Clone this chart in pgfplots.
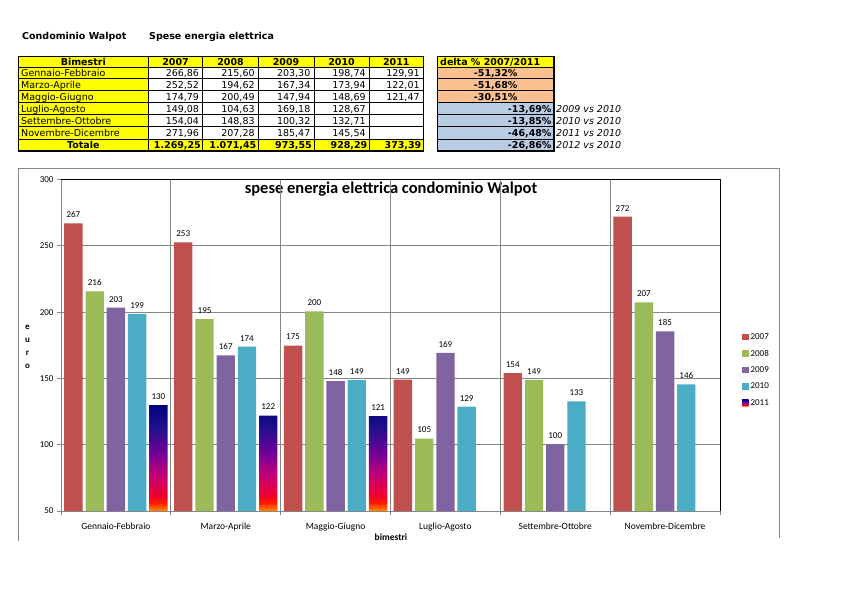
\documentclass[border=0pt]{standalone}
\usepackage{fontspec}
\setmainfont{Carlito}
\newfontfamily\tabfont{DejaVu Sans}
\usepackage{pgfplots}
\pgfplotsset{compat=1.18}
\pgfplotsset{/pgf/number format/assume math mode=true}
\definecolor{c07}{HTML}{C0504D}
\definecolor{c08}{HTML}{9BBB59}
\definecolor{c09}{HTML}{8064A2}
\definecolor{c10}{HTML}{4BACC6}
\definecolor{gridg}{HTML}{868686}
\definecolor{yel}{HTML}{FFFF00}
\definecolor{peach}{HTML}{FAC090}
\definecolor{lblue}{HTML}{B8CCE4}
\definecolor{gA}{HTML}{FF8C00}
\definecolor{gB}{HTML}{FF1A00}
\definecolor{gC}{HTML}{F00030}
\definecolor{gD}{HTML}{C0007A}
\definecolor{gE}{HTML}{70009A}
\definecolor{gF}{HTML}{22108A}
\definecolor{gG}{HTML}{000080}
\pgfdeclareverticalshading{bar2011}{100bp}{color(0bp)=(gA); color(25bp)=(gA); color(29bp)=(gB); color(32.5bp)=(gC); color(42.5bp)=(gD); color(52.5bp)=(gE); color(64bp)=(gF); color(75bp)=(gG); color(100bp)=(gG)}
\newcommand\tfr{\tabfont\fontsize{9.5}{11}\selectfont}
\newcommand\tfb{\tabfont\bfseries\fontsize{9.5}{11}\selectfont}
\newcommand\tfi{\tabfont\itshape\fontsize{9.5}{11}\selectfont}
% row: baseline y, label, five values
\newcommand\trow[7]{%
  \node[anchor=base west,inner sep=0,font=\tfr] at (21,#1) {#2};
  \node[anchor=base east,inner sep=0,font=\tfr] at (199.2,#1) {#3};
  \node[anchor=base east,inner sep=0,font=\tfr] at (254.8,#1) {#4};
  \node[anchor=base east,inner sep=0,font=\tfr] at (310.5,#1) {#5};
  \node[anchor=base east,inner sep=0,font=\tfr] at (365.8,#1) {#6};
  \node[anchor=base east,inner sep=0,font=\tfr] at (419.8,#1) {#7};
}
\begin{document}
\begin{tikzpicture}
\path[use as bounding box, fill=white] (0,0) rectangle (842pt,-595pt);
\begin{scope}[x=1pt,y=-1pt]
  % titles
  \node[anchor=base west,inner sep=0,font=\tfb] at (22,39.5) {Condominio Walpot};
  \node[anchor=base west,inner sep=0,font=\tfb] at (149,39.5) {Spese energia elettrica};
  % table fills
  \fill[yel] (18.3,56.7) rectangle (423.3,67.3);
  \fill[yel] (18.3,67.3) rectangle (148.3,139);
  \fill[yel] (18.3,139) rectangle (423.3,151);
  \foreach \y in {67.3,78.7,90.7,102.7,114.3,126.7,139}
    \draw[line width=0.7pt] (18.3,\y) -- (423.3,\y);
  \foreach \x in {148.3,202.7,258.3,314,369.3}
    \draw[line width=0.7pt] (\x,56.7) -- (\x,151);
  \draw[line width=1.4pt] (18.3,56.7) rectangle (423.3,151);
  % header
  \node[anchor=base,inner sep=0,font=\tfb] at (83.3,65.5) {Bimestri};
  \node[anchor=base,inner sep=0,font=\tfb] at (175.5,65.5) {2007};
  \node[anchor=base,inner sep=0,font=\tfb] at (230.5,65.5) {2008};
  \node[anchor=base,inner sep=0,font=\tfb] at (286.1,65.5) {2009};
  \node[anchor=base,inner sep=0,font=\tfb] at (341.6,65.5) {2010};
  \node[anchor=base,inner sep=0,font=\tfb] at (396.3,65.5) {2011};
  \trow{76.5}{Gennaio-Febbraio}{266,86}{215,60}{203,30}{198,74}{129,91}
  \trow{88.2}{Marzo-Aprile}{252,52}{194,62}{167,34}{173,94}{122,01}
  \trow{100.2}{Maggio-Giugno}{174,79}{200,49}{147,94}{148,69}{121,47}
  \trow{112}{Luglio-Agosto}{149,08}{104,63}{169,18}{128,67}{}
  \trow{124}{Settembre-Ottobre}{154,04}{148,83}{100,32}{132,71}{}
  \trow{136.3}{Novembre-Dicembre}{271,96}{207,28}{185,47}{145,54}{}
  \node[anchor=base,inner sep=0,font=\tfb] at (83.3,148.5) {Totale};
  \node[anchor=base east,inner sep=0,font=\tfb] at (201,148.5) {1.269,25};
  \node[anchor=base east,inner sep=0,font=\tfb] at (256.5,148.5) {1.071,45};
  \node[anchor=base east,inner sep=0,font=\tfb] at (312,148.5) {973,55};
  \node[anchor=base east,inner sep=0,font=\tfb] at (367.5,148.5) {928,29};
  \node[anchor=base east,inner sep=0,font=\tfb] at (421.5,148.5) {373,39};
  % delta column
  \fill[yel] (437.3,56.7) rectangle (554,67.3);
  \fill[peach] (437.3,67.3) rectangle (554,102.7);
  \fill[lblue] (437.3,102.7) rectangle (554,151);
  \foreach \y in {67.3,78.7,90.7,102.7,114.3,126.7,139}
    \draw[line width=0.7pt] (437.3,\y) -- (554,\y);
  \draw[line width=1.4pt] (437.3,56.7) rectangle (554,151);
  \node[anchor=base west,inner sep=0,font=\tfb] at (440,65.5) {delta \% 2007/2011};
  \node[anchor=base,inner sep=0,font=\tfb] at (495.7,76.5) {-51,32\%};
  \node[anchor=base,inner sep=0,font=\tfb] at (495.7,88.2) {-51,68\%};
  \node[anchor=base,inner sep=0,font=\tfb] at (495.7,100.2) {-30,51\%};
  \node[anchor=base east,inner sep=0,font=\tfb] at (551.7,112) {-13,69\%};
  \node[anchor=base east,inner sep=0,font=\tfb] at (551.7,124) {-13,85\%};
  \node[anchor=base east,inner sep=0,font=\tfb] at (551.7,136.3) {-46,48\%};
  \node[anchor=base east,inner sep=0,font=\tfb] at (551.7,148.5) {-26,86\%};
  \node[anchor=base west,inner sep=0,font=\tfi] at (556,112) {2009 vs 2010};
  \node[anchor=base west,inner sep=0,font=\tfi] at (556,124) {2010 vs 2010};
  \node[anchor=base west,inner sep=0,font=\tfi] at (556,136.3) {2011 vs 2010};
  \node[anchor=base west,inner sep=0,font=\tfi] at (556,148.5) {2012 vs 2010};
  % chart frame
  \draw[gridg, line width=0.8pt] (18,541) -- (18,168) -- (779,168) -- (779,538);
  % titles of chart
  \node[font=\bfseries\fontsize{16.5}{18}\selectfont, inner sep=0] at (391,189) {spese energia elettrica condominio Walpot};
  \node[font=\bfseries\fontsize{9}{13}\selectfont, align=center, inner sep=0] at (27.5,347) {e\\u\\r\\o};
  \node[font=\bfseries\fontsize{9.5}{11}\selectfont, inner sep=0] at (391,537) {bimestri};
\end{scope}
\begin{axis}[
  name=ax,
  at={(61pt,-511pt)}, anchor=south west,
  scale only axis, width=659pt, height=331.5pt,
  xmin=-0.5, xmax=5.5, ymin=50, ymax=300,
  ytick={50,100,...,300},
  xtick={0,...,5},
  xticklabels={Gennaio-Febbraio,Marzo-Aprile,Maggio-Giugno,Luglio-Agosto,Settembre-Ottobre,Novembre-Dicembre},
  minor xtick={-0.5,0.5,...,5.5},
  xminorgrids, ymajorgrids,
  grid style={draw=gridg, line width=0.8pt},
  minor grid style={draw=gridg, line width=0.8pt},
  axis line style={draw=gridg, line width=0.8pt},
  major x tick style={draw=none},
  minor x tick style={draw=gridg, line width=0.8pt},
  ytick style={draw=gridg, line width=0.8pt},
  tick align=outside, tick pos=left,
  major tick length=4pt, minor tick length=4pt,
  tick label style={font=\fontsize{9}{10}\selectfont},
  xticklabel style={font=\fontsize{9.5}{11}\selectfont, yshift=-4pt},
  ybar, bar width=0.167,
  nodes near coords={\pgfmathprintnumber[fixed,precision=0]{\pgfplotspointmeta}},
  every node near coord/.append style={font=\fontsize{9}{10}\selectfont, text=black, yshift=2pt},
  legend style={at={(1.0334,0.4253)}, anchor=west, draw=none, fill=none,
    font=\fontsize{9}{10}\selectfont, inner sep=0pt, row sep=5pt},
  legend cell align=left,
  legend image code/.code={\fill[#1] (0pt,-3.2pt) rectangle (6.4pt,3.2pt);},
]
\addplot[fill=c07, draw=none, bar shift=-0.387] coordinates {(0,266.86) (1,252.52) (2,174.79) (3,149.08) (4,154.04) (5,271.96)};
\addplot[fill=c08, draw=none, bar shift=-0.193] coordinates {(0,215.60) (1,194.62) (2,200.49) (3,104.63) (4,148.83) (5,207.28)};
\addplot[fill=c09, draw=none, bar shift=0] coordinates {(0,203.30) (1,167.34) (2,147.94) (3,169.18) (4,100.32) (5,185.47)};
\addplot[fill=c10, draw=none, bar shift=0.193] coordinates {(0,198.74) (1,173.94) (2,148.69) (3,128.67) (4,132.71) (5,145.54)};
\addplot[shading=bar2011, draw=none, bar shift=0.387] coordinates {(0,129.91) (1,122.01) (2,121.47)};
\legend{2007,2008,2009,2010,2011}
\end{axis}
\draw[black, line width=0.8pt] (ax.north west) -- (ax.north east) -- (ax.south east);
\end{tikzpicture}
\end{document}
